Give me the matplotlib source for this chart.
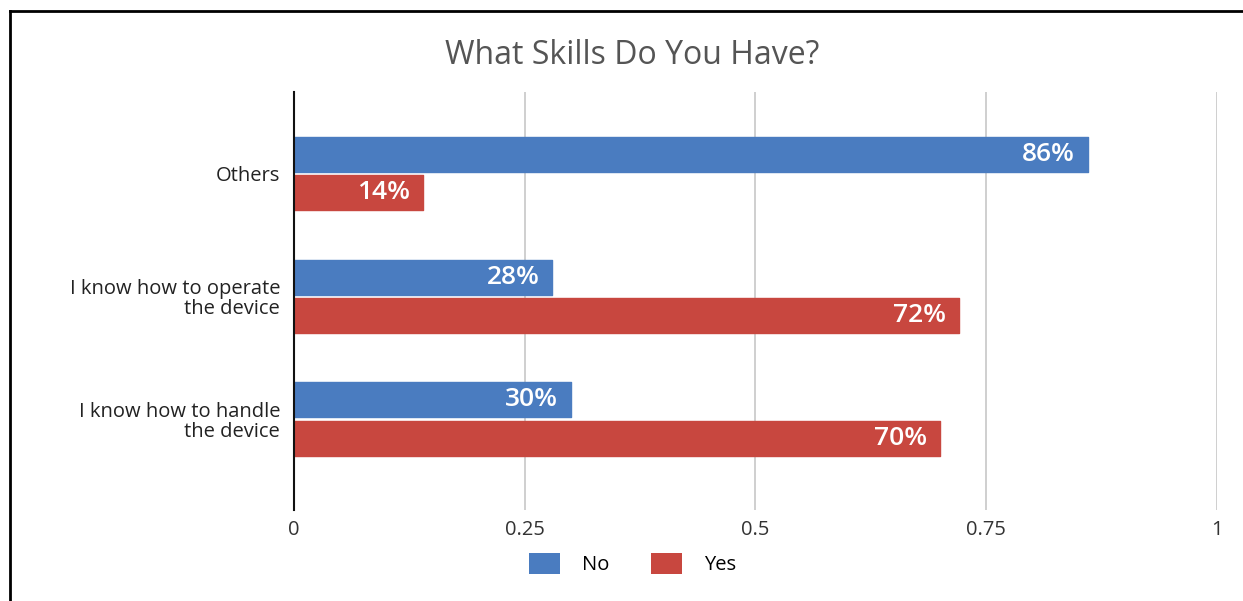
import matplotlib.pyplot as plt
from matplotlib.patches import Patch
from matplotlib.lines import Line2D
import numpy as np

plt.rcParams['font.family'] = ['Open Sans', 'DejaVu Sans']

# Survey answers, top to bottom
categories = ['Others', 'I know how to operate\nthe device', 'I know how to handle\nthe device']
no_values = [0.86, 0.28, 0.30]
yes_values = [0.14, 0.72, 0.70]
x_ticks = [0, 0.25, 0.5, 0.75, 1]
x_tick_labels = ['0', '0.25', '0.5', '0.75', '1']

blue = '#4a7cc0'
red = '#c8473f'

fig = plt.figure(figsize=(12.43, 6.01), dpi=100)
ax = fig.add_axes([0.2365, 0.1514, 0.7426, 0.6955])

y = np.arange(len(categories))
h = 0.285
gap = 0.025
bars_no = ax.barh(y - (h + gap) / 2, no_values, height=h, color=blue, zorder=3)
bars_yes = ax.barh(y + (h + gap) / 2, yes_values, height=h, color=red, zorder=3)

# round the bar ends a little
for bars in (bars_no, bars_yes):
    for b in bars:
        b.set_joinstyle('round')
        b.set_edgecolor(b.get_facecolor())
        b.set_linewidth(1)

# percentage labels inside the bar ends
for yy, vals in ((y - (h + gap) / 2, no_values), (y + (h + gap) / 2, yes_values)):
    for yi, v in zip(yy, vals):
        ax.text(v - 0.014, yi, f'{round(v * 100)}%', ha='right', va='center',
                color='white', fontsize=19, fontweight='semibold', zorder=4)

ax.set_xlim(0, 1)
ax.set_ylim(2.74, -0.66)
ax.set_xticks(x_ticks)
ax.set_xticklabels(x_tick_labels)
ax.set_yticks(y)
ax.set_yticklabels(categories, fontsize=14.5, color='#222222', linespacing=1.0)
ax.tick_params(axis='both', length=0)
ax.tick_params(axis='y', pad=10)
ax.tick_params(axis='x', pad=7, labelsize=14.5, labelcolor='#333333')

ax.grid(axis='x', color='#cccccc', linewidth=1.3, zorder=0)
for s in ('top', 'right', 'bottom'):
    ax.spines[s].set_visible(False)
ax.spines['left'].set_color('#111111')
ax.spines['left'].set_linewidth(1.5)
ax.spines['left'].set_zorder(5)

fig.text(0.509, 1 - 56 / 601, 'What Skills Do You Have?', ha='center', va='center',
         fontsize=23, color='#555555')

handles = [Patch(facecolor=blue, label='No'), Patch(facecolor=red, label='Yes')]
fig.legend(handles=handles, loc='center', bbox_to_anchor=(0.509, 1 - 564 / 601),
           ncol=2, frameon=False, fontsize=14.5, handlelength=1.5, handleheight=1.25,
           handletextpad=1.1, columnspacing=2.1)

# frame lines along the top and left edge
fig.add_artist(Line2D([10 / 1243, 1], [1 - 11 / 601, 1 - 11 / 601],
                      transform=fig.transFigure, color='black', linewidth=2))
fig.add_artist(Line2D([10 / 1243, 10 / 1243], [0, 1 - 11 / 601],
                      transform=fig.transFigure, color='black', linewidth=2))

fig.savefig('out.png', dpi=100)
